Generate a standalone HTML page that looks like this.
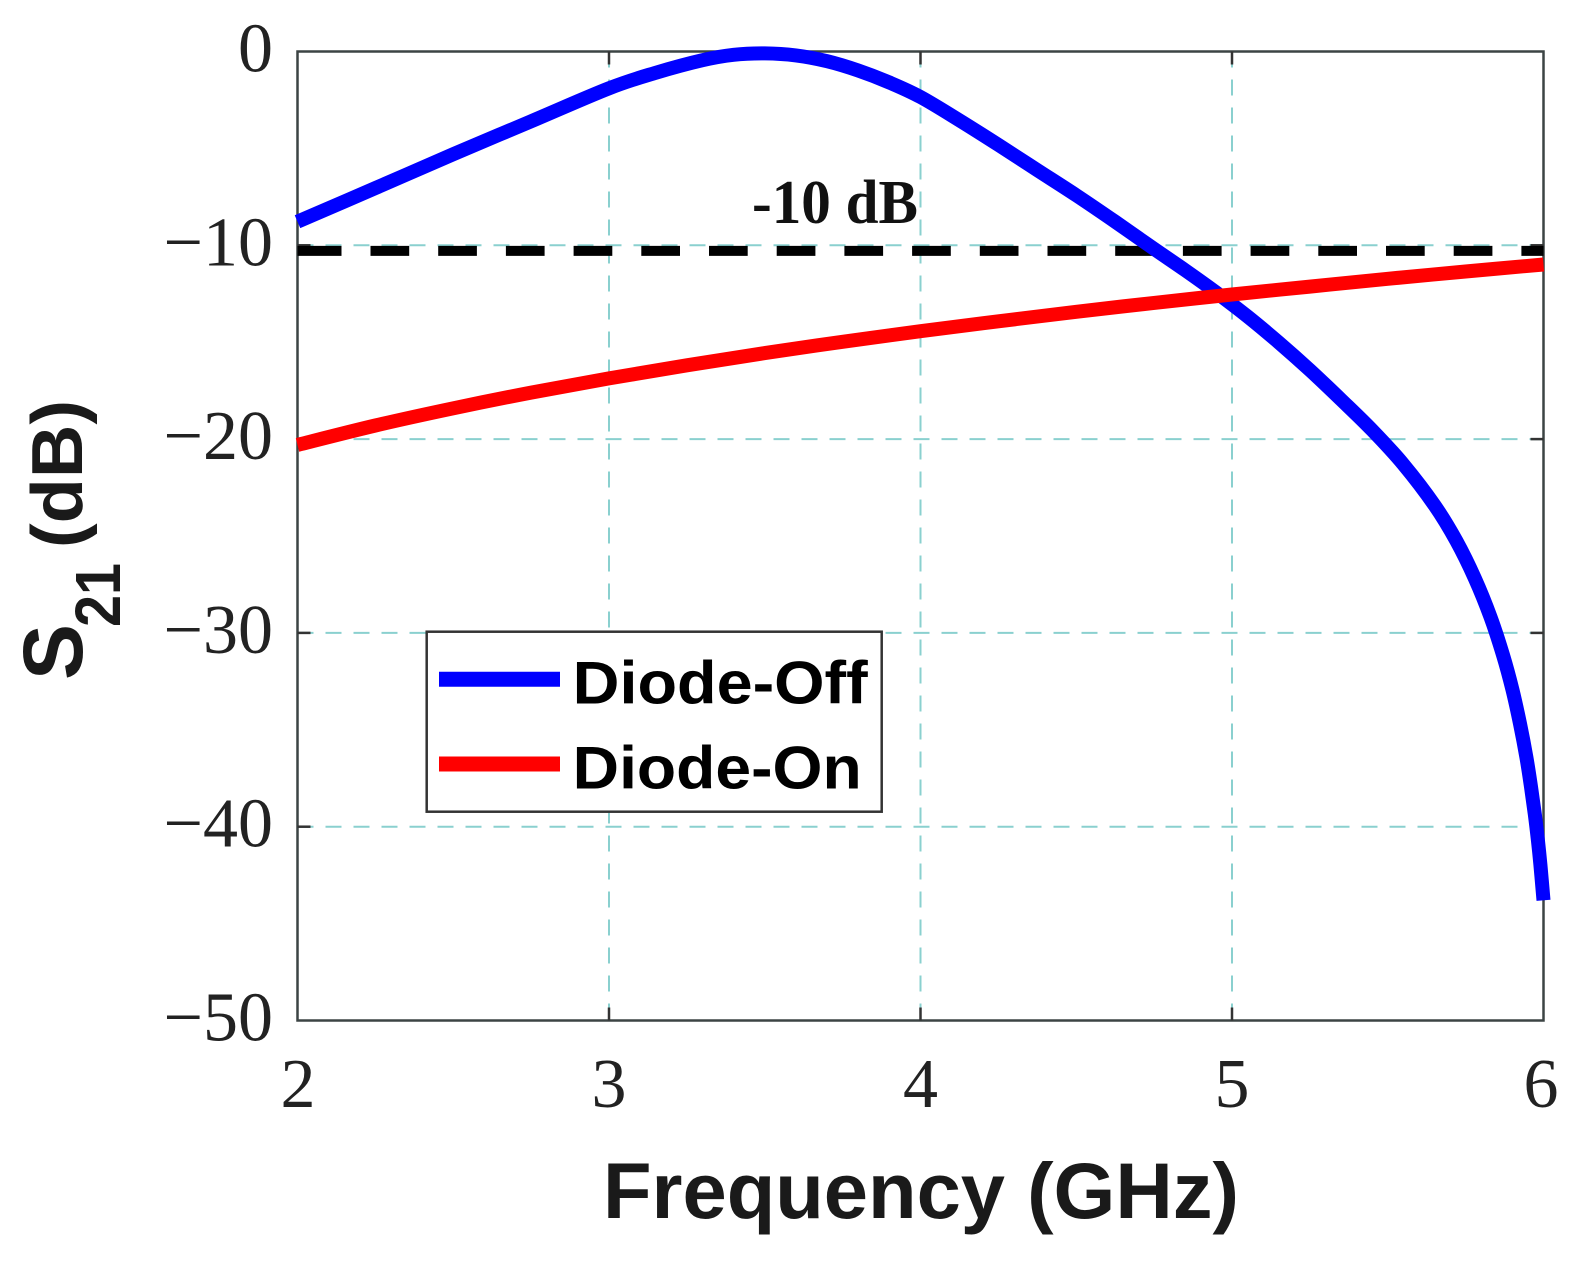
<!DOCTYPE html>
<html>
<head>
<meta charset="utf-8">
<style>
  html,body{margin:0;padding:0;background:#fff;}
  svg{display:block;}
</style>
</head>
<body>
<svg id="chart" width="1588" height="1264" viewBox="0 0 1588 1264" xmlns="http://www.w3.org/2000/svg">
  <rect x="0" y="0" width="1588" height="1264" fill="#ffffff"/>

  <!-- grid -->
  <g stroke="#8ad0cf" stroke-width="2" stroke-dasharray="16 12" fill="none">
    <line x1="609" y1="51.5" x2="609" y2="1020.5"/>
    <line x1="920.5" y1="51.5" x2="920.5" y2="1020.5"/>
    <line x1="1232" y1="51.5" x2="1232" y2="1020.5"/>
    <line x1="297.5" y1="245.3" x2="1543.5" y2="245.3"/>
    <line x1="297.5" y1="439.1" x2="1543.5" y2="439.1"/>
    <line x1="297.5" y1="632.9" x2="1543.5" y2="632.9"/>
    <line x1="297.5" y1="826.7" x2="1543.5" y2="826.7"/>
  </g>

  <!-- axes box -->
  <rect x="297.5" y="51.5" width="1246" height="969" fill="none" stroke="#3c4444" stroke-width="2.5"/>
  <!-- ticks -->
  <g stroke="#333" stroke-width="2.5">
    <line x1="609" y1="1020.5" x2="609" y2="1007.5"/>
    <line x1="920.5" y1="1020.5" x2="920.5" y2="1007.5"/>
    <line x1="1232" y1="1020.5" x2="1232" y2="1007.5"/>
    <line x1="609" y1="51.5" x2="609" y2="64.5"/>
    <line x1="920.5" y1="51.5" x2="920.5" y2="64.5"/>
    <line x1="1232" y1="51.5" x2="1232" y2="64.5"/>
    <line x1="297.5" y1="245.3" x2="310.5" y2="245.3"/>
    <line x1="297.5" y1="439.1" x2="310.5" y2="439.1"/>
    <line x1="297.5" y1="632.9" x2="310.5" y2="632.9"/>
    <line x1="297.5" y1="826.7" x2="310.5" y2="826.7"/>
    <line x1="1543.5" y1="245.3" x2="1530.5" y2="245.3"/>
    <line x1="1543.5" y1="439.1" x2="1530.5" y2="439.1"/>
    <line x1="1543.5" y1="632.9" x2="1530.5" y2="632.9"/>
    <line x1="1543.5" y1="826.7" x2="1530.5" y2="826.7"/>
  </g>

  <!-- -10 dB dashed reference -->
  <line x1="297.5" y1="250.9" x2="1543.5" y2="250.9" stroke="#000" stroke-width="10" stroke-dasharray="44 29 38.7 29 38.7 29 38.7 29 38.7 29 38.7 29 38.7 29 38.7 29 38.7 29 38.7 29 38.7 29 38.7 29 38.7 29 38.7 29 38.7 29 38.7 29 38.7 29 38.7 29 38.7 29 38.7 29"/>

  <!-- Diode-Off (blue) -->
  <polyline class="smooth" fill="none" stroke="#0000ff" stroke-width="14" stroke-linejoin="round" stroke-linecap="butt"
    points="297.5,221.7 375.4,188.1 453.3,154.2 531.1,121.3 609.0,88.3 655.7,72.8 702.5,60.2 733.6,54.8 764.8,53.4 795.9,55.4 827.1,61.2 858.2,70.5 889.4,82.5 920.5,97.0 959.4,120.3 998.4,144.9 1037.3,170.1 1076.3,195.3 1115.2,221.7 1154.1,248.9 1185.3,270.3 1216.4,292.6 1247.6,316.5 1278.7,342.4 1309.9,370.1 1341.0,399.6 1372.2,430.2 1403.3,464.3 1434.5,505.2 1456.3,540.8 1474.9,578.5 1490.5,617.0 1503.0,655.0 1512.4,689.5 1520.1,724.2 1526.4,757.3 1531.0,786.8 1534.8,814.1 1537.9,840.1 1540.4,864.7 1543.5,900.3"/>

  <!-- Diode-On (red) -->
  <polyline class="smooth" fill="none" stroke="#ff0000" stroke-width="14" stroke-linejoin="round" stroke-linecap="butt"
    points="297.5,444.9 375.4,425.5 453.3,408.3 531.1,392.6 609.0,378.4 686.9,365.3 764.8,353.1 842.6,341.8 920.5,331.2 998.4,321.3 1076.3,311.8 1154.1,302.9 1232.0,294.5 1309.9,286.6 1387.8,278.8 1465.6,271.5 1543.5,264.5"/>

  <!-- -10 dB annotation -->
  <text x="752" y="223" font-family="Liberation Serif, serif" font-weight="bold" font-size="62" fill="#111" textLength="166" lengthAdjust="spacingAndGlyphs">-10 dB</text>

  <!-- y tick labels -->
  <g font-family="Liberation Serif, serif" font-size="70" fill="#222" text-anchor="end">
    <text x="273" y="71.5">0</text>
    <text x="273" y="265.3">−10</text>
    <text x="273" y="459.1">−20</text>
    <text x="273" y="652.9">−30</text>
    <text x="273" y="846.7">−40</text>
    <text x="273" y="1040.5">−50</text>
  </g>

  <!-- x tick labels -->
  <g font-family="Liberation Serif, serif" font-size="70" fill="#222" text-anchor="middle">
    <text x="298" y="1107">2</text>
    <text x="609" y="1107">3</text>
    <text x="920.5" y="1107">4</text>
    <text x="1232" y="1107">5</text>
    <text x="1541" y="1107">6</text>
  </g>

  <!-- x label -->
  <text x="603" y="1218" font-family="Liberation Sans, Arial, sans-serif" font-weight="bold" font-size="79" fill="#1a1a1a" textLength="636" lengthAdjust="spacingAndGlyphs">Frequency (GHz)</text>

  <!-- y label -->
  <g transform="translate(82,680) rotate(-90)" font-family="Liberation Sans, Arial, sans-serif" font-weight="bold" fill="#1a1a1a">
    <text x="0" y="0" font-size="84">S</text>
    <text x="53" y="38" font-size="64" textLength="64" lengthAdjust="spacingAndGlyphs">21</text>
    <text x="132" y="0" font-size="72" textLength="148" lengthAdjust="spacingAndGlyphs">(dB)</text>
  </g>

  <!-- legend -->
  <rect x="426.7" y="631.7" width="455" height="180" fill="#ffffff" stroke="#333" stroke-width="2.5"/>
  <line x1="439" y1="679.3" x2="560" y2="679.3" stroke="#0000ff" stroke-width="15"/>
  <line x1="439" y1="764" x2="560" y2="764" stroke="#ff0000" stroke-width="15"/>
  <g font-family="Liberation Sans, Arial, sans-serif" font-weight="bold" font-size="60" fill="#000">
    <text x="572.7" y="703.3" textLength="295" lengthAdjust="spacingAndGlyphs">Diode-Off</text>
    <text x="572.7" y="788.3" textLength="289" lengthAdjust="spacingAndGlyphs">Diode-On</text>
  </g>
</svg>
<script>
(function(){
  var pls = document.querySelectorAll('polyline.smooth');
  for (var k = 0; k < pls.length; k++) {
    var pl = pls[k];
    var raw = pl.getAttribute('points').trim().split(/\s+/);
    var pts = raw.map(function(p){ return p.split(',').map(Number); });
    var d = 'M' + pts[0][0] + ',' + pts[0][1];
    for (var i = 0; i < pts.length - 1; i++) {
      var p0 = pts[i-1] || pts[i], p1 = pts[i], p2 = pts[i+1], p3 = pts[i+2] || pts[i+1];
      var c1x = p1[0] + (p2[0]-p0[0])/6, c1y = p1[1] + (p2[1]-p0[1])/6;
      var c2x = p2[0] - (p3[0]-p1[0])/6, c2y = p2[1] - (p3[1]-p1[1])/6;
      d += ' C' + c1x.toFixed(2) + ',' + c1y.toFixed(2) + ' ' + c2x.toFixed(2) + ',' + c2y.toFixed(2) + ' ' + p2[0] + ',' + p2[1];
    }
    var path = document.createElementNS('http://www.w3.org/2000/svg', 'path');
    for (var j = 0; j < pl.attributes.length; j++) {
      var a = pl.attributes[j];
      if (a.name !== 'points' && a.name !== 'class') path.setAttribute(a.name, a.value);
    }
    path.setAttribute('d', d);
    pl.parentNode.replaceChild(path, pl);
  }
})();
</script>
</body>
</html>
